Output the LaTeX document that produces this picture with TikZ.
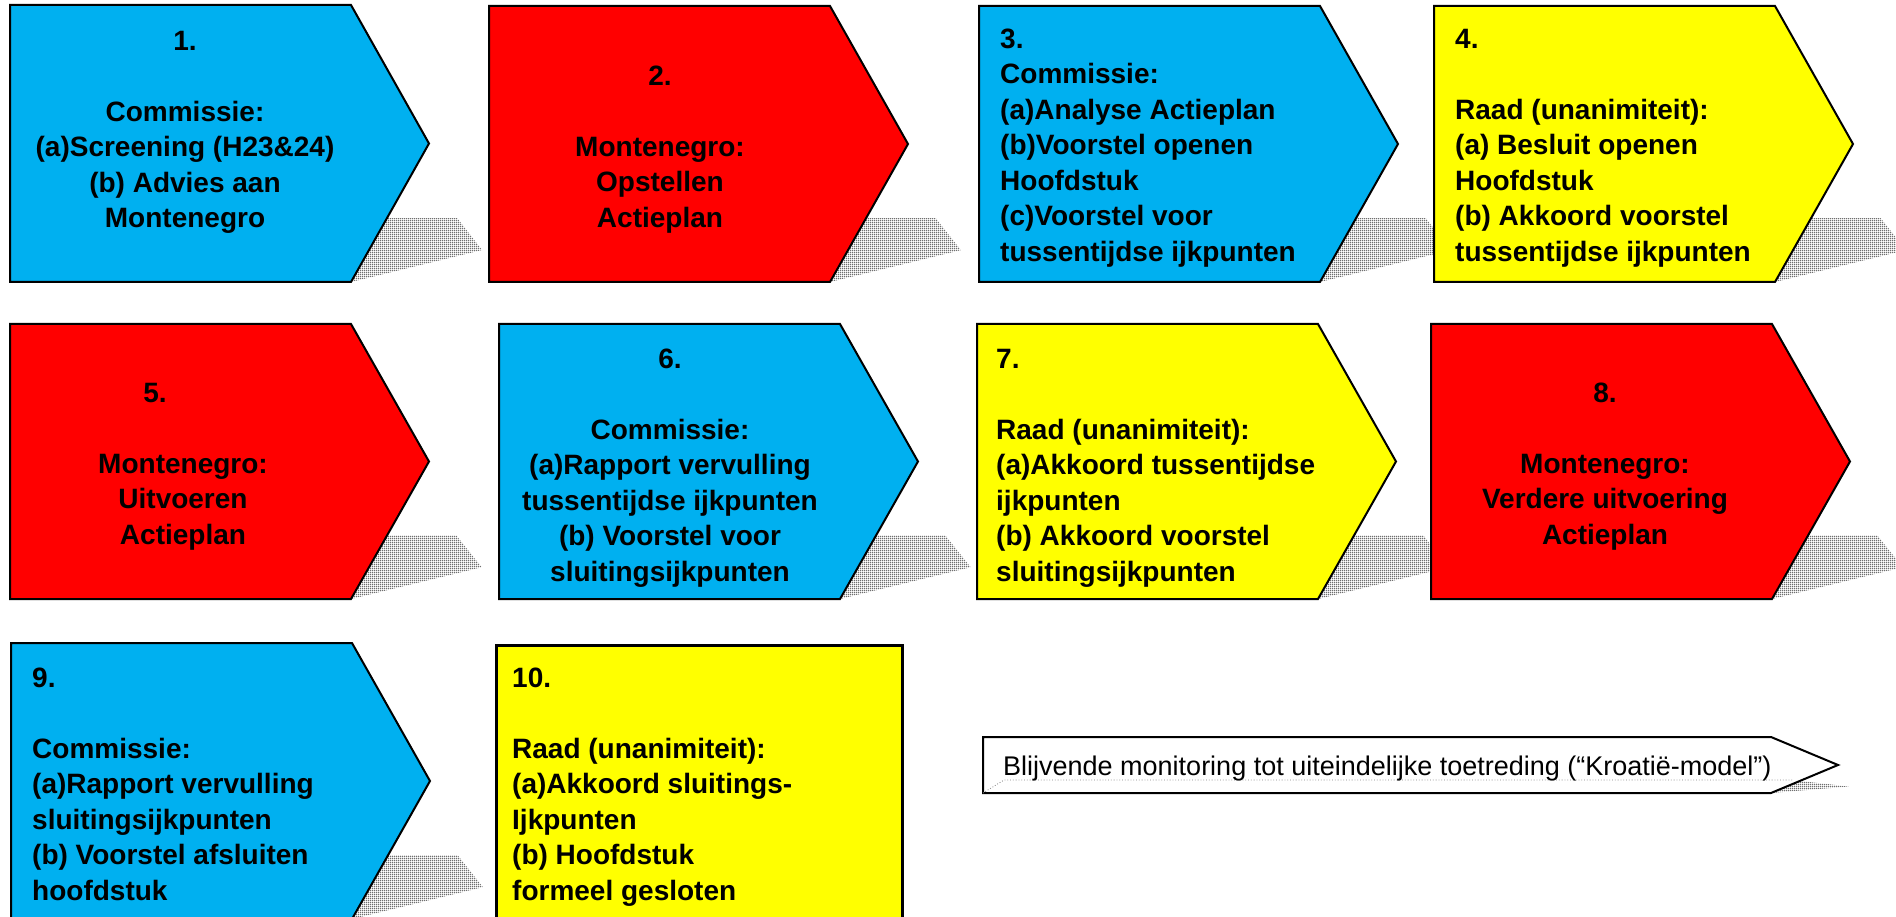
\documentclass[tikz,border=0pt]{standalone}
\usepackage{fontspec}
\setmainfont{Liberation Sans}
\usetikzlibrary{patterns}
\pgfdeclarepatternformonly{finegrid}{\pgfpointorigin}{\pgfpoint{2pt}{2pt}}{\pgfpoint{2pt}{2pt}}{%
  \pgfpathrectangle{\pgfpointorigin}{\pgfpoint{2pt}{1pt}}%
  \pgfpathrectangle{\pgfpointorigin}{\pgfpoint{1pt}{2pt}}%
  \pgfusepath{fill}}
\definecolor{euBlue}{RGB}{0,176,240}
\definecolor{euRed}{RGB}{255,0,0}
\definecolor{euYellow}{RGB}{255,255,0}
\tikzset{
  boxline/.style={draw=black, line width=2pt, line join=miter},
  shadowfill/.style={pattern=finegrid, pattern color=black!62},
  boldtext/.style={font=\bfseries\fontsize{28}{35.5}\selectfont, inner sep=0pt, text=black},
  ctext/.style={boldtext, align=center, anchor=north},
  ltext/.style={boldtext, align=left, anchor=north west},
  montext/.style={font=\fontsize{27}{32}\selectfont, inner sep=0pt, anchor=base west}
}
% L T R P B  (left, top, right of rectangle part, tip x, bottom)
\newcommand{\mkshadow}[5]{%
  \fill[shadowfill] (#1,#5) -- ({#1+0.383*(#5-#2)},{#5-0.231*(#5-#2)})
    -- ({#3+0.383*(#5-#2)},{#5-0.231*(#5-#2)})
    -- ({#4+0.383*(#5-#2)/2},{#5-0.231*(#5-#2)/2}) -- (#3,#5) -- cycle;}
\newcommand{\mkarrow}[6]{%
  \draw[boxline, fill=#6] (#1,#2) -- (#3,#2) -- (#4,{(#2+#5)/2}) -- (#3,#5) -- (#1,#5) -- cycle;}
\begin{document}
\begin{tikzpicture}[x=1pt,y=-1pt]
\useasboundingbox (0,0) rectangle (1896,917);
\fill[white] (0,0) rectangle (1896,917);
% shadows
\mkshadow{10}{5}{351}{429}{282}
\mkshadow{489}{6}{830}{908}{282}
\mkshadow{979}{6}{1320}{1398}{282}
\mkshadow{1434}{6}{1775}{1853}{282}
\mkshadow{10}{324}{351}{429}{599}
\mkshadow{499}{324}{840}{918}{599}
\mkshadow{977}{324}{1318}{1396}{599}
\mkshadow{1431}{324}{1772}{1850}{599}
\mkshadow{11}{643}{352}{430}{919}
\mkshadow{983}{737}{1771}{1838}{793}
% shapes
\mkarrow{10}{5}{351}{429}{282}{euBlue}
\mkarrow{489}{6}{830}{908}{282}{euRed}
\mkarrow{979}{6}{1320}{1398}{282}{euBlue}
\mkarrow{1434}{6}{1775}{1853}{282}{euYellow}
\mkarrow{10}{324}{351}{429}{599}{euRed}
\mkarrow{499}{324}{840}{918}{599}{euBlue}
\mkarrow{977}{324}{1318}{1396}{599}{euYellow}
\mkarrow{1431}{324}{1772}{1850}{599}{euRed}
\mkarrow{11}{643}{352}{430}{919}{euBlue}
\draw[draw=black, line width=3pt, fill=euYellow] (496,645) rectangle (902,919);
\mkarrow{983}{737}{1771}{1838}{793}{white}
\draw[gray, dotted, line width=0.8pt] (983,793) -- (1004,780) -- (1792,780);
% texts
\node[ctext] (n1) at (185,25.15) {\strut 1.\\ \\ Commissie:\\ (a)Screening (H23\&24)\\ (b) Advies aan\\ Montenegro};
\node[ctext] (n2) at (660,60.15) {\strut 2.\\ \\ Montenegro:\\ Opstellen\\ Actieplan};
\node[ltext] (n3) at (1000,23.15) {\strut 3.\\ Commissie:\\ (a)Analyse Actieplan\\ (b)Voorstel openen\\ Hoofdstuk\\ (c)Voorstel voor\\ tussentijdse ijkpunten};
\node[ltext] (n4) at (1455,23.15) {\strut 4.\\ \\ Raad (unanimiteit):\\ (a) Besluit openen\\ Hoofdstuk\\ (b) Akkoord voorstel\\ tussentijdse ijkpunten};
\node[ctext] (n5) at (183,377.15) {\strut\hspace*{-56pt}5.\\ \\ Montenegro:\\ Uitvoeren\\ Actieplan};
\node[ctext] (n6) at (670,343.15) {\strut 6.\\ \\ Commissie:\\ (a)Rapport vervulling\\ tussentijdse ijkpunten\\ (b) Voorstel voor\\ sluitingsijkpunten};
\node[ltext] (n7) at (996,343.15) {\strut 7.\\ \\ Raad (unanimiteit):\\ (a)Akkoord tussentijdse\\ ijkpunten\\ (b) Akkoord voorstel\\ sluitingsijkpunten};
\node[ctext] (n8) at (1605,377.15) {\strut 8.\\ \\ Montenegro:\\ Verdere uitvoering\\ Actieplan};
\node[ltext] (n9) at (32,662.15) {\strut 9.\\ \\ Commissie:\\ (a)Rapport vervulling\\ sluitingsijkpunten\\ (b) Voorstel afsluiten\\ hoofdstuk};
\node[ltext] (n10) at (512,662.15) {\strut 10.\\ \\ Raad (unanimiteit):\\ (a)Akkoord sluitings-\\ Ijkpunten\\ (b) Hoofdstuk\\ formeel gesloten};
\node[montext] (mon) at (1003,775) {Blijvende monitoring tot uiteindelijke toetreding (“Kroatië-model”)};
\end{tikzpicture}
\end{document}
